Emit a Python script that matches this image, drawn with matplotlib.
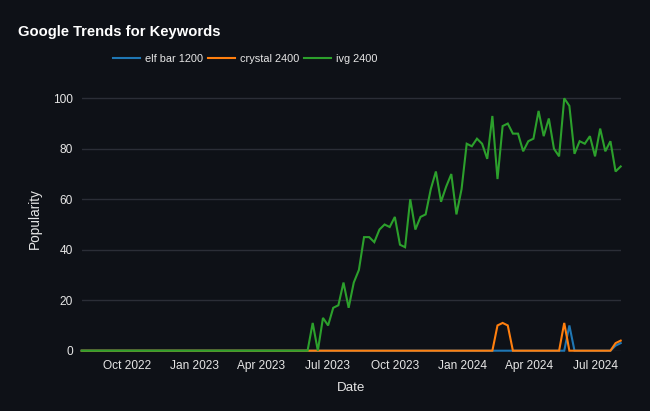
import matplotlib
matplotlib.use("Agg")
import matplotlib.pyplot as plt
import matplotlib.dates as mdates
import pandas as pd

start_date = "2022-07-31"
n_weeks = 106

elf_bar_1200 = [
    0, 0, 0, 0, 0, 0, 0, 0, 0, 0, 0, 0, 0, 0, 0,
    0, 0, 0, 0, 0, 0, 0, 0, 0, 0, 0, 0, 0, 0, 0,
    0, 0, 0, 0, 0, 0, 0, 0, 0, 0, 0, 0, 0, 0, 0,
    0, 0, 0, 0, 0, 0, 0, 0, 0, 0, 0, 0, 0, 0, 0,
    0, 0, 0, 0, 0, 0, 0, 0, 0, 0, 0, 0, 0, 0, 0,
    0, 0, 0, 0, 0, 0, 0, 0, 0, 0, 0, 0, 0, 0, 0,
    0, 0, 0, 0, 0, 10, 0, 0, 0, 0, 0, 0, 0, 0, 2,
    3,
]
crystal_2400 = [
    0, 0, 0, 0, 0, 0, 0, 0, 0, 0, 0, 0, 0, 0, 0,
    0, 0, 0, 0, 0, 0, 0, 0, 0, 0, 0, 0, 0, 0, 0,
    0, 0, 0, 0, 0, 0, 0, 0, 0, 0, 0, 0, 0, 0, 0,
    0, 0, 0, 0, 0, 0, 0, 0, 0, 0, 0, 0, 0, 0, 0,
    0, 0, 0, 0, 0, 0, 0, 0, 0, 0, 0, 0, 0, 0, 0,
    0, 0, 0, 0, 0, 0, 10, 11, 10, 0, 0, 0, 0, 0, 0,
    0, 0, 0, 0, 11, 0, 0, 0, 0, 0, 0, 0, 0, 0, 3,
    4,
]
ivg_2400 = [
    0, 0, 0, 0, 0, 0, 0, 0, 0, 0, 0, 0, 0, 0, 0,
    0, 0, 0, 0, 0, 0, 0, 0, 0, 0, 0, 0, 0, 0, 0,
    0, 0, 0, 0, 0, 0, 0, 0, 0, 0, 0, 0, 0, 0, 0,
    11, 0, 13, 10, 17, 18, 27, 17, 27, 32, 45, 45, 43, 48, 50,
    49, 53, 42, 41, 60, 48, 53, 54, 64, 71, 59, 65, 70, 54, 64,
    82, 81, 84, 82, 76, 93, 68, 89, 90, 86, 86, 79, 83, 84, 95,
    85, 92, 80, 77, 100, 97, 78, 83, 82, 85, 77, 88, 79, 83, 71,
    73,
]
series_names = ["elf bar 1200", "crystal 2400", "ivg 2400"]
series_colors = ["#1f77b4", "#ff7f0e", "#2ca02c"]
y_ticks = [0, 20, 40, 60, 80, 100]

dates = pd.date_range(start_date, periods=n_weeks, freq="7D")

BG = "#0e1117"
GRID = "#2b2e37"
TXT = "#e6e6e6"
plt.rcParams["font.family"] = ["Liberation Sans", "DejaVu Sans"]

W, H = 650, 411
fig = plt.figure(figsize=(W / 100, H / 100), dpi=100, facecolor=BG)
x0, x1 = 81.7, 620.7
y_zero, px_per_unit = 350.7, 2.524
ytop = 105
ax = fig.add_axes([x0 / W, (H - y_zero) / H, (x1 - x0) / W, ytop * px_per_unit / H])
ax.set_facecolor(BG)

for vals, name, col in zip([elf_bar_1200, crystal_2400, ivg_2400], series_names, series_colors):
    ax.plot(dates, vals, color=col, lw=1.5, label=name, clip_on=False, solid_joinstyle="miter")

ax.set_xlim(dates[0], dates[-1])
ax.set_ylim(0, ytop)
ax.set_yticks(y_ticks)
ax.grid(axis="y", color=GRID, lw=1)
ax.grid(axis="x", visible=False)
ax.set_axisbelow(True)
for s in ax.spines.values():
    s.set_visible(False)

ax.xaxis.set_major_locator(mdates.MonthLocator(bymonth=[1, 4, 7, 10]))
ax.xaxis.set_major_formatter(mdates.DateFormatter("%b %Y"))
ax.tick_params(axis="both", length=0, colors=TXT, labelsize=8.6)
ax.tick_params(axis="x", pad=7)
ax.tick_params(axis="y", pad=6.5)

ax.set_xlabel("Date", color=TXT, fontsize=9.6, labelpad=7)
ax.set_ylabel("Popularity", color=TXT, fontsize=9.8, labelpad=8)

fig.text(18 / W, 1 - 32 / H, "Google Trends for Keywords", color="white",
         fontsize=10.6, fontweight="bold", ha="left", va="center")

fig.legend(loc="center left", bbox_to_anchor=(113 / W, 1 - 59 / H), ncol=3,
           frameon=False, fontsize=7.9, labelcolor=TXT, handlelength=2.45,
           handletextpad=0.45, columnspacing=0.45, borderpad=0, borderaxespad=0)

fig.savefig("out.png", dpi=100, facecolor=BG)
